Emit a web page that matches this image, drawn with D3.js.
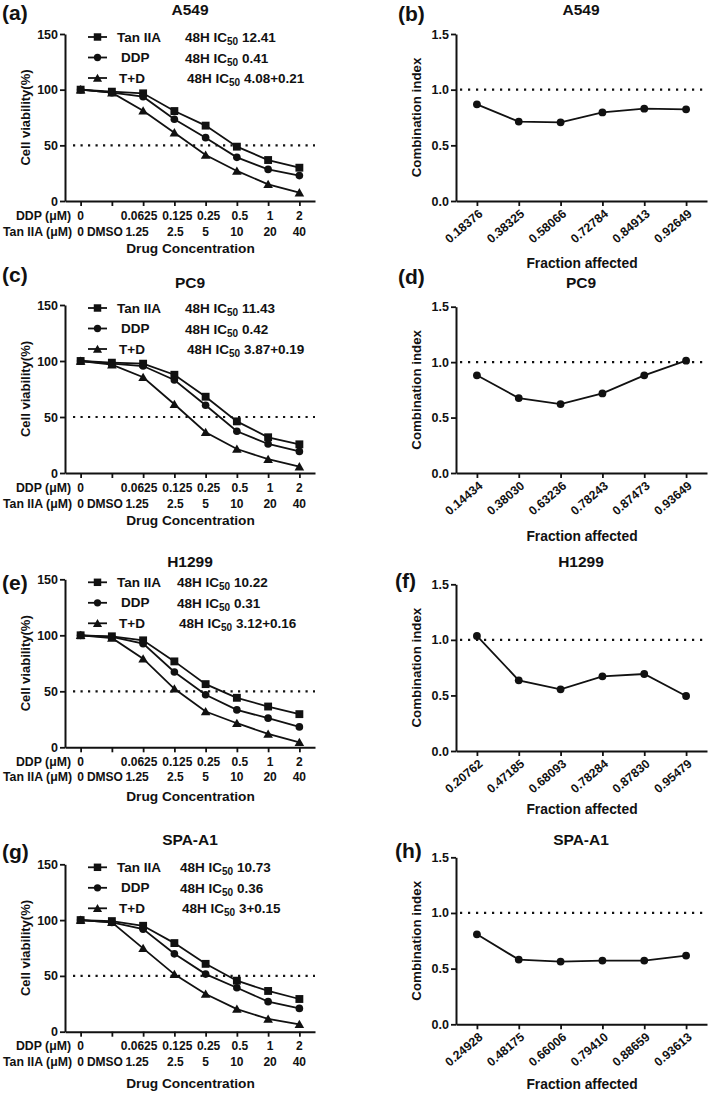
<!DOCTYPE html>
<html><head><meta charset="utf-8">
<script src="https://cdn.jsdelivr.net/npm/d3@7"></script>
<style>
html,body{margin:0;padding:0;background:#fff;}
svg{display:block;}
text{font-family:"Liberation Sans",Arial,Helvetica,sans-serif;font-weight:bold;fill:#111;}
</style></head>
<body>
<svg id="chart" width="709" height="1093"></svg>
<script>
// ---------- DATA ----------
const cellLines = ["A549", "PC9", "H1299", "SPA-A1"];
const panelLetters = ["(a)", "(b)", "(c)", "(d)", "(e)", "(f)", "(g)", "(h)"];
const concIndex = [0, 1, 2, 3, 4, 5, 6, 7];
const ddpLabels = ["0", "", "0.0625", "0.125", "0.25", "0.5", "1", "2"];
const tanLabels = ["0", "DMSO", "1.25", "2.5", "5", "10", "20", "40"];
const seriesNames = ["Tan IIA", "DDP", "T+D"];
const viabilityTicks = [0, 50, 100, 150];
const ciTicks = [0, 0.5, 1.0, 1.5];

const tanA549 = [100, 98.2, 96.7, 80.8, 67.7, 48.8, 36.8, 29.9];
const ddpA549 = [100, 97.3, 93.7, 73.4, 56.9, 39.2, 28.4, 22.8];
const tdA549  = [100, 97.3, 81.1, 61.4, 41.3, 27.0, 15.0, 7.5];

const tanPC9 = [100, 98.5, 97.6, 87.7, 68.1, 46.1, 31.9, 25.6];
const ddpPC9 = [100, 97.6, 95.5, 83.1, 60.5, 37.3, 25.9, 19.3];
const tdPC9  = [100, 96.7, 85.5, 61.4, 36.4, 21.4, 12.3, 5.7];

const tanH1299 = [100, 99.1, 95.5, 76.7, 56.4, 44.2, 36.4, 29.6];
const ddpH1299 = [100, 98.5, 92.5, 67.2, 46.9, 33.4, 26.0, 18.2];
const tdH1299  = [100, 97.6, 79.1, 52.2, 31.9, 21.5, 11.9, 4.5];

const tanSPA = [100, 99.1, 94.9, 79.4, 60.8, 45.7, 36.5, 29.3];
const ddpSPA = [100, 97.9, 91.9, 69.8, 51.6, 39.4, 26.9, 20.9];
const tdSPA  = [100, 98.0, 74.7, 51.4, 33.8, 20.3, 11.4, 6.6];

const ic50A549 = ["12.41", "0.41", "4.08+0.21"];
const ic50PC9 = ["11.43", "0.42", "3.87+0.19"];
const ic50H1299 = ["10.22", "0.31", "3.12+0.16"];
const ic50SPA = ["10.73", "0.36", "3+0.15"];

const faA549 = ["0.18376", "0.38325", "0.58066", "0.72784", "0.84913", "0.92649"];
const ciA549 = [0.868, 0.713, 0.707, 0.796, 0.829, 0.823];
const faPC9 = ["0.14434", "0.38030", "0.63236", "0.78243", "0.87473", "0.93649"];
const ciPC9 = [0.881, 0.676, 0.622, 0.718, 0.881, 1.013];
const faH1299 = ["0.20762", "0.47185", "0.68093", "0.78284", "0.87830", "0.95479"];
const ciH1299 = [1.035, 0.636, 0.555, 0.672, 0.693, 0.495];
const faSPA = ["0.24928", "0.48175", "0.66006", "0.79410", "0.88659", "0.93613"];
const ciSPA = [0.808, 0.581, 0.563, 0.572, 0.572, 0.617];

const viabilitySets = [
  [tanA549, ddpA549, tdA549],
  [tanPC9, ddpPC9, tdPC9],
  [tanH1299, ddpH1299, tdH1299],
  [tanSPA, ddpSPA, tdSPA]
];
const ic50Sets = [ic50A549, ic50PC9, ic50H1299, ic50SPA];
const faSets = [faA549, faPC9, faH1299, faSPA];
const ciSets = [ciA549, ciPC9, ciH1299, ciSPA];

// ---------- LAYOUT ----------
const leftLayout = [
  {top: 34, bot: 201, titleY: 9, labelY: 12, ddpRow: 216, tanRow: 232, xTitle: 248, icX: 185},
  {top: 305, bot: 473, titleY: 282, labelY: 274, ddpRow: 488.3, tanRow: 504.3, xTitle: 520.7, icX: 185},
  {top: 579.3, bot: 747.3, titleY: 561, labelY: 582, ddpRow: 761.7, tanRow: 777.3, xTitle: 796.7, icX: 177},
  {top: 864.3, bot: 1031.7, titleY: 839, labelY: 851, ddpRow: 1046, tanRow: 1062.3, xTitle: 1083.3, icX: 180}
];
const rightLayout = [
  {top: 34, bot: 201, titleY: 9, labelY: 13, labelX: 398, xTitle: 263},
  {top: 306.7, bot: 473, titleY: 282, labelY: 276, labelX: 398, xTitle: 536.7},
  {top: 584.3, bot: 751, titleY: 561, labelY: 580, labelX: 395, xTitle: 809},
  {top: 857.3, bot: 1024.3, titleY: 839, labelY: 850, labelX: 395, xTitle: 1084}
];
const LX0 = 65, LX1 = 315, RX0 = 456, RX1 = 707;
const ddpShift = [0, 0, -4, 3, 3, 3, 2, 0];
const tanShift = [0, -7, -6, 1, 0, 0, 2, 0];

const svg = d3.select("#chart");
const symbols = [d3.symbolSquare, d3.symbolCircle, d3.symbolTriangle];
const symSizes = [62, 46, 40];

function styleAxis(g) {
  g.selectAll("path.domain").attr("stroke", "#111").attr("stroke-width", 2);
  g.selectAll(".tick line").attr("stroke", "#111").attr("stroke-width", 1.8);
  g.selectAll(".tick text").attr("font-family", "Liberation Sans, Arial, sans-serif")
    .attr("font-weight", "bold").attr("fill", "#111");
}

// ---------- LEFT PANELS ----------
leftLayout.forEach((L, p) => {
  const g = svg.append("g");
  const x = d3.scalePoint().domain(concIndex).range([LX0, LX1]).padding(0.5);
  const y = d3.scaleLinear().domain([0, 150]).range([L.bot, L.top]);

  const ya = g.append("g").attr("transform", `translate(${LX0},0)`)
    .call(d3.axisLeft(y).tickValues(viabilityTicks).tickSize(5).tickSizeOuter(0).tickPadding(2));
  ya.selectAll(".tick text").attr("font-size", 12.5);
  styleAxis(ya);
  const xa = g.append("g").attr("transform", `translate(0,${L.bot})`)
    .call(d3.axisBottom(x).tickSize(5).tickSizeOuter(0).tickFormat(""));
  styleAxis(xa);

  g.append("line").attr("x1", LX0 + 8).attr("x2", LX1).attr("y1", y(50)).attr("y2", y(50))
    .attr("stroke", "#111").attr("stroke-width", 2.2).attr("stroke-dasharray", "2.2 5.3");

  g.append("text").attr("x", 71).attr("y", L.ddpRow).attr("text-anchor", "end")
    .attr("dominant-baseline", "central").attr("font-size", 12.3).text("DDP (\u03BCM)");
  g.append("text").attr("x", 72).attr("y", L.tanRow).attr("text-anchor", "end")
    .attr("dominant-baseline", "central").attr("font-size", 12.3).text("Tan IIA (\u03BCM)");
  g.selectAll("text.ddp").data(concIndex).join("text").attr("class", "ddp")
    .attr("x", d => x(d) + ddpShift[d]).attr("y", L.ddpRow).attr("text-anchor", "middle")
    .attr("dominant-baseline", "central").attr("font-size", 12).text(d => ddpLabels[d]);
  g.selectAll("text.tan").data(concIndex).join("text").attr("class", "tan")
    .attr("x", d => x(d) + tanShift[d]).attr("y", L.tanRow).attr("text-anchor", "middle")
    .attr("dominant-baseline", "central").attr("font-size", 12).text(d => tanLabels[d]);
  g.append("text").attr("x", 190.5).attr("y", L.xTitle).attr("text-anchor", "middle")
    .attr("dominant-baseline", "central").attr("font-size", 13.7).text("Drug Concentration");

  g.append("text").attr("transform", `translate(25,${(L.top + L.bot) / 2}) rotate(-90)`)
    .attr("text-anchor", "middle").attr("dominant-baseline", "central").attr("font-size", 13)
    .text("Cell viability(%)");

  g.append("text").attr("x", 190).attr("y", L.titleY).attr("text-anchor", "middle")
    .attr("dominant-baseline", "central").attr("font-size", 15.5).text(cellLines[p]);
  g.append("text").attr("x", 2).attr("y", L.labelY).attr("dominant-baseline", "central")
    .attr("font-size", 21).text(panelLetters[p * 2]);

  const line = d3.line().x((d, i) => x(concIndex[i])).y(d => y(d));
  viabilitySets[p].forEach((vals, s) => {
    g.append("path").datum(vals).attr("d", line).attr("fill", "none")
      .attr("stroke", "#111").attr("stroke-width", 1.8);
    g.selectAll(`path.m${s}`).data(vals).join("path").attr("class", `m${s}`)
      .attr("transform", (d, i) => `translate(${x(concIndex[i])},${y(d) + (s === 2 ? 1 : 0)})`)
      .attr("d", d3.symbol().type(symbols[s]).size(symSizes[s])).attr("fill", "#111");
  });

  const rowOff = [3, 23.5, 44];
  const nameX = [117, 121, 119];
  seriesNames.forEach((nm, s) => {
    const ry = L.top + rowOff[s];
    g.append("line").attr("x1", 88).attr("x2", 107).attr("y1", ry).attr("y2", ry)
      .attr("stroke", "#111").attr("stroke-width", 1.8);
    g.append("path").attr("transform", `translate(97.5,${ry + (s === 2 ? 1 : 0)})`)
      .attr("d", d3.symbol().type(symbols[s]).size(symSizes[s] * 0.9)).attr("fill", "#111");
    g.append("text").attr("x", nameX[s]).attr("y", ry).attr("dominant-baseline", "central")
      .attr("font-size", 13.5).text(nm);
    const t = g.append("text").attr("x", L.icX + (s === 2 ? 2 : 0)).attr("y", ry)
      .attr("dominant-baseline", "central").attr("font-size", 13.5);
    t.append("tspan").text("48H IC");
    t.append("tspan").attr("font-size", 10).attr("dy", 4).text("50");
    t.append("tspan").attr("dy", -4).text("\u00A0" + ic50Sets[p][s]);
  });
});

// ---------- RIGHT PANELS ----------
rightLayout.forEach((L, p) => {
  const g = svg.append("g");
  const fa = faSets[p];
  const x = d3.scalePoint().domain(fa).range([RX0, RX1]).padding(0.5);
  const y = d3.scaleLinear().domain([0, 1.5]).range([L.bot, L.top]);

  const ya = g.append("g").attr("transform", `translate(${RX0},0)`)
    .call(d3.axisLeft(y).tickValues(ciTicks).tickFormat(d3.format(".1f")).tickSize(5).tickSizeOuter(0).tickPadding(2));
  ya.selectAll(".tick text").attr("font-size", 12.5);
  styleAxis(ya);
  const xa = g.append("g").attr("transform", `translate(0,${L.bot})`)
    .call(d3.axisBottom(x).tickSize(5).tickSizeOuter(0).tickFormat(""));
  styleAxis(xa);

  g.selectAll("text.fa").data(fa).join("text").attr("class", "fa")
    .attr("transform", d => `translate(${x(d) + 4},${L.bot + 11}) rotate(-40)`)
    .attr("text-anchor", "end").attr("dominant-baseline", "central").attr("font-size", 12.3)
    .text(d => d);

  g.append("line").attr("x1", RX0 + 4).attr("x2", RX1 - 2).attr("y1", y(1)).attr("y2", y(1))
    .attr("stroke", "#111").attr("stroke-width", 2.2).attr("stroke-dasharray", "2.2 5.8");

  const line = d3.line().x((d, i) => x(fa[i])).y(d => y(d));
  g.append("path").datum(ciSets[p]).attr("d", line).attr("fill", "none")
    .attr("stroke", "#111").attr("stroke-width", 1.8);
  g.selectAll("circle.ci").data(ciSets[p]).join("circle").attr("class", "ci")
    .attr("cx", (d, i) => x(fa[i])).attr("cy", d => y(d)).attr("r", 3.9).attr("fill", "#111");

  g.append("text").attr("transform", `translate(416.7,${(L.top + L.bot) / 2}) rotate(-90)`)
    .attr("text-anchor", "middle").attr("dominant-baseline", "central").attr("font-size", 13.3)
    .text("Combination index");
  g.append("text").attr("x", 582).attr("y", L.xTitle).attr("text-anchor", "middle")
    .attr("dominant-baseline", "central").attr("font-size", 13.8).text("Fraction affected");
  g.append("text").attr("x", 581).attr("y", L.titleY).attr("text-anchor", "middle")
    .attr("dominant-baseline", "central").attr("font-size", 15.5).text(cellLines[p]);
  g.append("text").attr("x", L.labelX).attr("y", L.labelY).attr("dominant-baseline", "central")
    .attr("font-size", 21).text(panelLetters[p * 2 + 1]);
});
</script>
</body></html>
